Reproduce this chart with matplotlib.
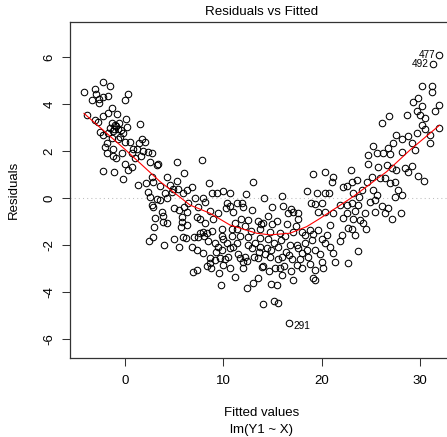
import matplotlib
matplotlib.use("Agg")
import matplotlib.pyplot as plt

plt.rcParams['font.family'] = ['Liberation Sans', 'DejaVu Sans']

fitted = [
    31.98, 31.31, 16.68,
    -4.17, -3.05, -2.27, -1.53, -2.95, -3.36, -2.61, -2.27, -1.70, -2.61, 0.31, 0.00, -1.36,
    -3.90, -3.05, -2.20, -1.70, -0.85, 0.10, -2.71, -1.36, -1.02, -0.58, 0.17, 1.53, -1.53, -1.19, -0.68, -0.24,
    -2.54, -2.20, -1.36, -0.68, 0.00, 0.51, 1.70, 2.03, 1.46, -1.87, -2.03, -1.25, -1.80, -1.19, -0.92, -0.34,
    0.85, 0.68, 1.19, 1.80, 2.37, 2.71, 1.60, 1.02, 2.54, 3.39, 5.26, 0.00, 0.68, 0.34, -2.20, -1.12, -0.24,
    1.36, 2.14, 2.71, 2.88, 3.56, 4.31, 5.32, 6.00, 2.37, 2.54, 3.22, 4.07, 4.75, 4.92, 5.42, 5.93, 6.28,
    2.71, 3.56, 4.24, 4.98, 5.53, 6.00, 6.28, 2.88, 3.73, 3.90, 5.77, 3.05,
    -1.10, -0.90, -0.40, -1.70, -0.50, 3.22, 6.44, 4.58,
    3.90, 4.24, 2.95, 5.77, 6.28, 5.66, 2.47, 2.88, 3.97, 4.98, 5.53, 5.87, 6.20,
    7.80, 8.58, 13.05, 19.16, 6.78, 8.82, 9.33, 10.68, 12.31, 14.14, 18.55, 19.50,
    7.12, 7.97, 8.14, 10.35, 11.36, 11.87, 12.04, 7.46, 8.65, 9.49, 10.27, 10.68, 16.10, 16.85, 17.12, 19.33, 19.67, 17.63,
    14.58, 11.77, 12.54, 13.56, 13.80, 14.07, 14.92, 15.43, 16.61, 7.29, 8.14, 9.83, 10.85, 7.97, 8.31, 7.02, 7.46,
    10.00, 11.70, 12.54, 13.73, 14.58, 14.75, 15.77, 16.28, 17.12, 17.97, 18.31, 18.82, 19.16, 19.67,
    8.47, 9.49, 9.83, 10.68, 11.02, 11.36, 12.54, 12.88, 13.73, 14.41, 15.60, 16.78, 17.46, 17.63, 18.31,
    6.78, 7.29, 7.97, 8.65, 9.16, 9.66, 10.51, 11.70, 11.97, 12.20, 13.56, 14.75, 15.60, 15.94, 16.71, 17.97, 18.48, 19.33,
    10.00, 8.65, 7.29, 12.04, 13.90, 15.77, 17.46, 19.33, 6.95, 9.59, 11.19, 13.56, 15.94, 19.16,
    7.60, 8.00, 8.90, 9.20, 9.90, 10.40, 10.90, 11.40, 12.20, 12.80, 13.20, 13.60, 14.20, 14.90, 15.20, 15.90, 16.40,
    17.00, 17.80, 18.60, 19.00, 19.80, 8.30, 8.80, 9.30, 10.20, 10.70, 11.50, 12.40, 13.10, 14.00, 14.60, 15.30,
    16.20, 16.90, 18.00, 18.80, 7.60, 9.00, 11.00, 12.90, 15.00, 17.60, 18.90, 16.00, 10.00, 13.70, 16.50, 17.40, 11.20,
    24.75, 25.60, 26.28, 26.96, 28.15, 29.50, 24.75, 25.77, 26.62, 27.13, 27.57, 28.48, 28.82, 29.17, 29.84, 30.42,
    20.35, 22.96, 21.13, 21.02, 22.55, 23.06, 23.57, 24.58, 25.10, 25.94, 26.45, 26.96, 27.47,
    20.35, 20.78, 22.14, 23.22, 23.84, 24.08, 25.26, 25.60, 27.80, 28.15, 27.47,
    20.01, 21.87, 22.55, 23.06, 23.74, 24.92, 25.43, 26.11, 26.79,
    20.35, 21.20, 22.55, 23.40, 24.41, 25.43, 26.45, 28.05, 22.21, 23.22, 23.91, 24.24, 27.13,
    20.85, 22.72, 23.06, 24.52, 23.40, 22.04, 20.52, 20.01, 20.35, 21.87, 20.85, 21.20, 23.74, 20.01, 21.36, 22.72, 20.11,
    30.18, 31.20, 31.20, 29.33, 29.84, 31.98, 30.18, 29.67, 31.54, 28.72, 30.01, 30.52, 26.11, 26.89,
    30.18, 30.52, 31.98, 27.57, 28.15, 28.82, 29.67, 31.03, 27.23, 25.26, 26.79, 29.17, 31.03,
    9.77, 12.38, 13.05, 14.82, 15.43, 14.00, 15.16, 15.60, 17.12, 19.33,
]
resid = [
    6.09, 5.69, -5.33,
    4.50, 4.64, 4.92, 4.78, 4.43, 4.16, 4.21, 4.28, 4.33, 4.03, 4.44, 4.18, 3.83,
    3.53, 3.32, 3.49, 3.63, 3.57, 3.35, 3.25, 3.18, 3.11, 3.20, 3.03, 3.15, 2.96, 2.86, 2.92, 2.78,
    2.82, 2.68, 2.54, 2.50, 2.40, 2.40, 2.50, 2.40, 2.33, 2.33, 2.18, 2.07, 1.90, 1.79, 1.69, 1.90,
    2.07, 1.90, 2.07, 2.01, 1.97, 1.93, 1.79, 1.69, 1.55, 1.45, 1.55, 1.45, 1.33, 1.19, 1.16, 1.12, 0.80,
    0.55, 0.65, 0.91, 0.70, 0.51, 0.91, 0.74, 1.08, 0.27, 0.03, -0.06, 0.20, 0.27, 0.37, 0.37, 0.20, 0.34,
    -0.30, -0.09, -0.01, -0.44, -0.51, -0.40, -0.58, -0.37, -0.58, -0.77, -0.82, -0.87,
    2.95, 3.05, 2.90, 2.75, 2.60, 1.40, -0.23, 0.55,
    -1.01, -1.05, -1.25, -1.01, -1.15, -1.25, -1.82, -1.67, -2.01, -1.76, -2.10, -1.67, -1.72,
    1.62, 0.65, 0.70, 1.01, 0.45, 0.23, 0.20, 0.23, 0.17, -0.01, 0.31, 0.20,
    -0.01, -0.01, -0.16, -0.23, -0.23, -0.23, -0.37, -0.37, -0.55, -0.62, -0.44, -0.34, -0.34, -0.48, -0.58, -0.26, -0.58, -0.65,
    -0.77, -0.91, -0.94, -1.00, -1.11, -1.05, -1.11, -1.00, -0.65, -0.80, -1.08, -1.33, -1.33, -1.43, -1.48, -1.65, -1.67,
    -1.76, -1.62, -1.67, -1.72, -1.76, -1.43, -1.50, -1.62, -1.43, -1.43, -1.57, -1.36, -1.53, -1.36,
    -1.85, -2.07, -2.21, -2.14, -2.07, -1.93, -2.00, -2.14, -2.10, -2.14, -2.07, -2.00, -2.00, -2.14, -1.93,
    -2.07, -2.21, -2.36, -2.57, -2.64, -2.57, -2.50, -2.57, -2.71, -2.50, -2.57, -2.50, -2.61, -2.50, -2.43, -2.36, -2.21, -2.21,
    -2.85, -2.78, -3.06, -2.99, -2.92, -2.99, -2.85, -3.06, -3.13, -3.20, -3.35, -3.39, -3.28, -3.42,
    -1.50, -1.60, -1.40, -1.90, -1.60, -1.90, -1.60, -1.30, -1.20, -1.40, -1.90, -2.30, -2.40, -2.20, -1.90, -1.80, -2.30,
    -2.60, -2.60, -2.50, -1.80, -2.40, -2.90, -3.00, -2.30, -2.60, -3.00, -2.40, -2.70, -2.50, -2.90, -3.10, -3.00,
    -2.90, -3.10, -3.00, -2.80, -0.90, -0.90, -0.60, -0.50, -0.40, -0.90, -0.20, 0.10, 0.30, -1.30, -1.10, -1.20, -1.05,
    1.83, 1.93, 1.90, 1.87, 1.97, 2.04, 1.45, 1.31, 1.40, 1.26, 1.19, 1.26, 1.12, 1.36, 0.94, 0.74,
    1.12, 1.19, 0.88, 0.70, 0.51, 0.70, 0.77, 0.70, 0.91, 0.84, 0.84, 0.65, 0.70,
    0.23, 0.23, 0.45, 0.23, 0.06, 0.34, 0.34, 0.13, 0.34, 0.13, 0.06,
    -0.23, -0.30, -0.30, -0.20, -0.30, -0.16, -0.09, -0.34, -0.44,
    -0.58, -0.65, -0.65, -0.54, -0.65, -0.58, -0.62, -0.62, -0.87, -0.91, -0.94, -1.05, -0.91,
    -1.15, -1.29, -1.33, -1.33, -1.57, -1.57, -1.57, -1.76, -1.90, -1.82, -2.07, -2.36, -2.24, -2.71, -2.71, -2.78, -2.99,
    4.77, 4.77, 4.52, 4.10, 4.24, 3.96, 3.91, 3.71, 3.71, 3.53, 3.53, 3.39, 3.20, 3.49,
    3.11, 2.92, 2.97, 2.68, 2.50, 2.62, 2.75, 2.68, 2.35, 2.21, 2.11, 2.33, 2.33,
    -3.70, -3.82, -3.63, -3.66, -3.70, -4.52, -4.38, -4.45, -3.49, -3.49,
]

smooth_x = [-4.17, 0.0, 3.56, 6.61, 8.65, 10.68, 13.39, 14.75, 16.78, 18.48, 19.84, 23.22, 26.62, 28.99, 31.98]
smooth_y = [3.60, 2.07, 0.70, -0.30, -0.65, -1.15, -1.50, -1.57, -1.50, -1.22, -0.87, 0.06, 1.12, 2.04, 3.09]

labels = ["477", "492", "291"]
label_idx = [0, 1, 2]

xticks = [0, 10, 20, 30]
yticks = [-6, -4, -2, 0, 2, 4, 6]

W, H = 447, 437
fig = plt.figure(figsize=(W / 100, H / 100), dpi=100)
left, right, top, bottom = 70, 453.8, 22, 358
ax = fig.add_axes([left / W, 1 - bottom / H, (right - left) / W, (bottom - top) / H])
ax.set_xlim(-5.595, 33.45)
ax.set_ylim(-6.81, 7.49)

ax.axhline(0, color='#bebebe', linestyle=(0, (1, 3)), linewidth=0.75, zorder=1)
ax.plot(fitted, resid, linestyle='none', marker='o', markersize=4.7,
        markerfacecolor='none', markeredgecolor='black', markeredgewidth=0.75, zorder=2)
ax.plot(smooth_x, smooth_y, color='red', linewidth=0.8, zorder=3)

lab_fs = 7.2
offsets = [(-3, 0, 'right'), (-3, 0, 'right'), (3, -2, 'left')]
for lab, i, (dx, dy, ha) in zip(labels, label_idx, offsets):
    ax.annotate(lab, (fitted[i], resid[i]), xytext=(dx, dy), textcoords='offset points',
                ha=ha, va='center', fontsize=lab_fs)

ax.set_xticks(xticks)
ax.set_xticklabels([str(t) for t in xticks])
ax.set_yticks(yticks)
ax.set_yticklabels([str(t) for t in yticks], rotation=90, va='center')
ax.tick_params(axis='both', direction='out', length=5.8, width=0.75, labelsize=9.5, colors='#333333', labelcolor='black')
ax.tick_params(axis='x', pad=6.5)
ax.tick_params(axis='y', pad=4.5)
for s in ax.spines.values():
    s.set_linewidth(0.9)
    s.set_color('#333333')

fig.text((left + right) / 2 / W, 1 - 12 / H, "Residuals vs Fitted", ha='center', va='center', fontsize=9.6)
fig.text((left + right) / 2 / W, 1 - 413 / H, "Fitted values", ha='center', va='center', fontsize=9.5)
fig.text((left + right) / 2 / W, 1 - 430 / H, "lm(Y1 ~ X)", ha='center', va='center', fontsize=9.5)
fig.text(14 / W, 1 - 190 / H, "Residuals", ha='center', va='center', rotation=90, fontsize=9.5)

fig.savefig("out.png", dpi=100)
